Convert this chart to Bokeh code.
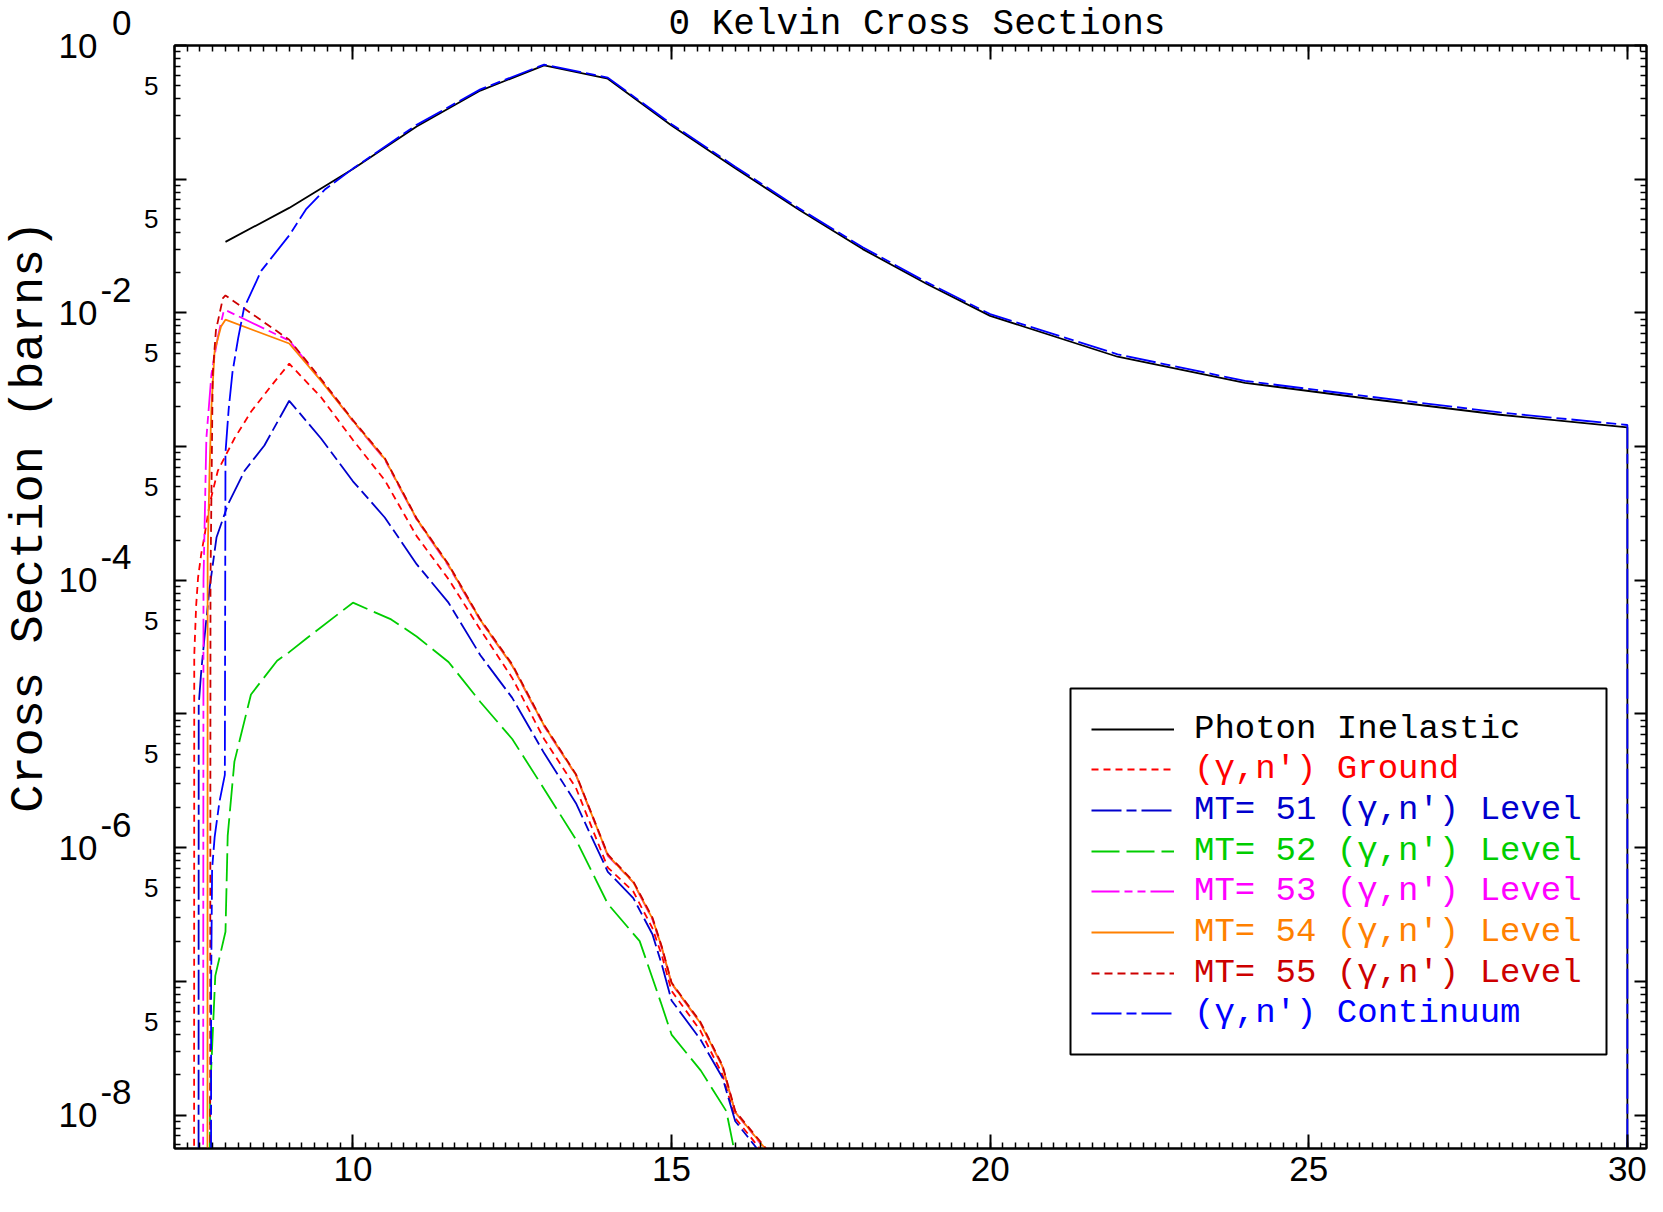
import numpy as np
from bokeh.plotting import figure
from bokeh.models import (Range1d, FixedTicker, LinearAxis, LogAxis, Legend, LegendItem,
                          BoxAnnotation, CustomJSTickFormatter, Title)
from bokeh.embed import file_html
from bokeh.resources import INLINE

# ---------------- data (energy in MeV, cross section in barns) ----------------
black_x = [8, 9, 10, 11, 12, 13, 14, 15, 16, 17, 18, 19, 20, 22, 24, 26, 28, 30, 30]
black_y = [0.034, 0.061, 0.119, 0.248, 0.46, 0.71, 0.565, 0.252, 0.121, 0.059, 0.030,
           0.0165, 0.0095, 0.0047, 0.0030, 0.00226, 0.00173, 0.00139, 1e-12]

ground_x = [7.505, 7.51, 7.54, 7.57, 7.62, 7.67, 7.75, 7.88, 8.14, 8.40, 8.71, 9.0, 9.5,
            10, 10.5, 11, 11.5, 12, 12.5, 13, 13.5, 14, 14.4, 14.7, 14.85, 15, 15.45,
            15.8, 16, 16.4]
ground_y = [1e-12, 2.75e-5, 6.5e-5, 1.05e-4, 1.58e-4, 2.14e-4, 3.7e-4, 6.6e-4, 1.15e-3,
            1.82e-3, 2.82e-3, 4.17e-3, 2.34e-3, 1.12e-3, 5.6e-4, 2.14e-4, 1.02e-4, 4.27e-5,
            1.86e-5, 6.5e-6, 2.8e-6, 7.1e-7, 4.7e-7, 2.5e-7, 1.55e-7, 8.5e-8, 4.3e-8,
            2.0e-8, 9.5e-9, 5.5e-9]

mt51_x = [7.575, 7.58, 7.62, 7.67, 7.75, 7.86, 8.04, 8.30, 8.61, 9.0, 9.5, 10, 10.5, 11,
          11.5, 12, 12.5, 13, 13.5, 14, 14.4, 14.7, 14.85, 15, 15.45, 15.8, 16, 16.37]
mt51_y = [1e-12, 1.17e-5, 2.1e-5, 3.7e-5, 8.7e-5, 2.1e-4, 3.7e-4, 6.6e-4, 1.02e-3, 2.2e-3,
          1.15e-3, 5.5e-4, 2.95e-4, 1.32e-4, 6.8e-5, 2.75e-5, 1.32e-5, 5.1e-6, 2.15e-6,
          6.6e-7, 4.2e-7, 2.25e-7, 1.32e-7, 7.2e-8, 3.7e-8, 1.9e-8, 9e-9, 5.4e-9]

mt52_x = [7.715, 7.76, 7.84, 8.0, 8.035, 8.14, 8.40, 8.81, 9.0, 9.28, 10, 10.6, 11, 11.5,
          12, 12.5, 13, 13.5, 14, 14.5, 14.83, 15, 15.46, 15.86, 16]
mt52_y = [1e-12, 1.5e-8, 1.1e-7, 2.35e-7, 1.23e-6, 4.4e-6, 1.4e-5, 2.5e-5, 2.9e-5, 3.7e-5,
          6.8e-5, 5.1e-5, 3.8e-5, 2.45e-5, 1.23e-5, 6.5e-6, 2.75e-6, 1.15e-6, 3.8e-7,
          2.0e-7, 7.0e-8, 4.0e-8, 2.15e-8, 1.07e-8, 5e-9]

mt53_x = [7.645, 7.655, 7.70, 7.78, 7.88, 7.97, 8.0, 9.0, 9.5, 10, 10.5, 11, 11.5, 12,
          12.5, 13, 13.5, 14, 14.4, 14.7, 14.85, 15, 15.45, 15.8, 16, 16.5]
mt53_y = [1e-12, 1.0e-4, 1.15e-3, 3.5e-3, 6.6e-3, 0.0102, 0.0105, 6.2e-3, 3.15e-3, 1.55e-3,
          8.0e-4, 2.85e-4, 1.28e-4, 5.0e-5, 2.3e-5, 8.1e-6, 3.5e-6, 8.7e-7, 5.5e-7, 2.9e-7,
          1.75e-7, 9.6e-8, 4.9e-8, 2.3e-8, 1.05e-8, 5.3e-9]

mt54_x = [7.715, 7.72, 7.75, 7.78, 7.83, 7.93, 8.0, 9.0, 9.5, 10, 10.5, 11, 11.5, 12,
          12.5, 13, 13.5, 14, 14.4, 14.7, 14.85, 15, 15.45, 15.8, 16, 16.5]
mt54_y = [1e-12, 1.5e-4, 6.6e-4, 2.0e-3, 5.2e-3, 7.9e-3, 8.9e-3, 5.9e-3, 3.1e-3, 1.56e-3,
          8.1e-4, 2.88e-4, 1.3e-4, 5.05e-5, 2.3e-5, 8.2e-6, 3.5e-6, 8.8e-7, 5.5e-7, 2.95e-7,
          1.78e-7, 9.7e-8, 4.9e-8, 2.3e-8, 1.05e-8, 5.4e-9]

mt55_x = [7.755, 7.765, 7.80, 7.85, 7.96, 8.0, 9.0, 9.5, 10, 10.5, 11, 11.5, 12, 12.5, 13,
          13.5, 14, 14.4, 14.7, 14.85, 15, 15.45, 15.8, 16, 16.5]
mt55_y = [1e-12, 1.0e-4, 3.5e-3, 7.4e-3, 0.0129, 0.0135, 6.3e-3, 3.2e-3, 1.58e-3, 8.2e-4,
          2.9e-4, 1.32e-4, 5.1e-5, 2.35e-5, 8.3e-6, 3.55e-6, 8.9e-7, 5.6e-7, 3.0e-7, 1.8e-7,
          9.8e-8, 5.0e-8, 2.35e-8, 1.07e-8, 5.5e-9]

cont_x = [7.77, 7.775, 7.79, 7.83, 7.905, 7.99, 8.0, 8.05, 8.11, 8.2, 8.29, 8.56, 9.0,
          9.27, 9.57, 10, 11, 12, 13, 14, 15, 16, 17, 18, 19, 20, 22, 24, 26, 28, 30, 30]
cont_y = [1e-12, 9.5e-8, 6.9e-7, 1.2e-6, 2.2e-6, 3.5e-6, 9.0e-4, 1.9e-3, 3.6e-3, 6.5e-3,
          0.0108, 0.0206, 0.038, 0.060, 0.0845, 0.120, 0.255, 0.47, 0.72, 0.575, 0.258,
          0.124, 0.0605, 0.031, 0.0170, 0.0098, 0.0049, 0.0031, 0.00235, 0.00180, 0.00145,
          1e-12]

series_labels = ["Photon Inelastic", "(\u03b3,n') Ground", "MT= 51 (\u03b3,n') Level",
                 "MT= 52 (\u03b3,n') Level", "MT= 53 (\u03b3,n') Level",
                 "MT= 54 (\u03b3,n') Level", "MT= 55 (\u03b3,n') Level",
                 "(\u03b3,n') Continuum"]

x_major_ticks = [10, 15, 20, 25, 30]
y_decade_ticks = [1.0, 0.1, 0.01, 1e-3, 1e-4, 1e-5, 1e-6, 1e-7, 1e-8]
y_label_decades = [1.0, 0.01, 1e-4, 1e-6, 1e-8]
y_label_bases = ["10", "10", "10", "10", "10"]
y_label_exponents = ["0", "-2", "-4", "-6", "-8"]
y_five_ticks = [0.5, 0.05, 5e-3, 5e-4, 5e-5, 5e-6, 5e-7, 5e-8]
y_five_labels = ["5"] * 8

title_text = "0 Kelvin Cross Sections"
ytitle_text = "Cross Section (barns)"

# ---------------- styles / layout ----------------
series_colors = ["#000000", "#ff0000", "#0000cd", "#00cd00", "#ff00ff", "#ff8000",
                 "#cd0000", "#0000ff"]
series_dashes = ["solid", "7 5", "30 5 10 5", "28 7", "28 5 8 5 8 5", "solid", "8 5",
                 "30 5 10 5"]

X_START, X_END = 7.2, 30.3
LOG_Y0, LOG_Y1 = -8.25, 0.0
FRAME_W, FRAME_H = 1472, 1103
MONO = "Liberation Mono"
SANS = "Liberation Sans"

p = figure(frame_width=FRAME_W, frame_height=FRAME_H,
           x_range=Range1d(X_START, X_END), y_range=Range1d(10 ** LOG_Y0, 10 ** LOG_Y1),
           y_axis_type="log", output_backend="svg", toolbar_location=None,
           min_border_left=170, min_border_right=5, min_border_top=45, min_border_bottom=48,
           background_fill_color="white", border_fill_color="white")
p.xgrid.visible = False
p.ygrid.visible = False
p.outline_line_color = "black"
p.outline_line_width = 2

p.title.text = title_text
p.title.text_font = MONO
p.title.text_font_size = "36px"
p.title.text_font_style = "normal"
p.title.text_color = "black"
p.title.align = "left"
p.title.offset = 494
p.title.standoff = 2

x_minor = [round(v, 2) for v in np.arange(X_START, X_END + 0.001, 0.2)]
xticker = FixedTicker(ticks=x_major_ticks, minor_ticks=x_minor)
y_minor = [m * 10.0 ** k for k in range(-9, 0) for m in range(2, 10)
           if m * 10.0 ** k >= 10 ** LOG_Y0]
yticker = FixedTicker(ticks=y_decade_ticks, minor_ticks=y_minor)


def blank():
    return CustomJSTickFormatter(code="return ''")


def style_ticks(ax, major_len):
    ax.major_tick_in = major_len
    ax.major_tick_out = 0
    ax.minor_tick_in = 6
    ax.minor_tick_out = 0
    ax.axis_line_width = 2
    ax.axis_line_color = "black"
    ax.major_tick_line_width = 2
    ax.minor_tick_line_width = 1.5
    ax.major_tick_line_color = "black"
    ax.minor_tick_line_color = "black"


def label_axis(ticks, labels, size, standoff):
    ax = LogAxis(ticker=FixedTicker(ticks=ticks, minor_ticks=[]), formatter=blank())
    ax.major_label_overrides = dict(zip(ticks, labels))
    ax.major_tick_in = 0
    ax.major_tick_out = 0
    ax.minor_tick_in = 0
    ax.minor_tick_out = 0
    ax.axis_line_color = None
    ax.major_tick_line_color = None
    ax.minor_tick_line_color = None
    ax.major_label_text_font = SANS
    ax.major_label_text_font_size = size
    ax.major_label_text_color = "black"
    ax.major_label_standoff = standoff
    return ax


xa = p.xaxis[0]
xa.ticker = xticker
style_ticks(xa, 14)
xa.major_label_text_font = SANS
xa.major_label_text_font_size = "35px"
xa.major_label_text_color = "black"
xa.major_label_standoff = 8

ya = p.yaxis[0]
ya.ticker = yticker
ya.formatter = blank()
ya.major_label_standoff = 0
ya.major_label_text_font_size = "1px"
style_ticks(ya, 12)

# left label columns: "5", raised exponent, "10"
raised_exponents = [e + "\n " for e in y_label_exponents]
p.add_layout(label_axis(y_five_ticks, y_five_labels, "26px", 16), "left")
p.add_layout(label_axis(y_label_decades, raised_exponents, "35px", 10), "left")
p.add_layout(label_axis(y_label_decades, y_label_bases, "35px", 0), "left")
p.add_layout(Title(text=ytitle_text, align="right", offset=175, standoff=0,
                   text_font=MONO, text_font_size="47px", text_font_style="normal",
                   text_color="black"), "left")

ra = LogAxis(ticker=yticker, formatter=blank(), major_label_standoff=0,
             major_label_text_font_size="1px")
style_ticks(ra, 12)
p.add_layout(ra, "right")
ta = LinearAxis(ticker=xticker, formatter=blank(), major_label_standoff=0,
                major_label_text_font_size="1px")
style_ticks(ta, 14)
p.add_layout(ta, "above")

# ---------------- curves ----------------
xs = [black_x, ground_x, mt51_x, mt52_x, mt53_x, mt54_x, mt55_x, cont_x]
ys = [black_y, ground_y, mt51_y, mt52_y, mt53_y, mt54_y, mt55_y, cont_y]
renderers = []
for x, y, c, d in zip(xs, ys, series_colors, series_dashes):
    renderers.append(p.line(x, y, line_color=c, line_width=1.8, line_dash=d))


# ---------------- legend (one per row for coloured texts) ----------------
def px_to_x(px):
    return X_START + px * (X_END - X_START) / FRAME_W


def py_to_y(py):
    return 10 ** (LOG_Y0 + py * (LOG_Y1 - LOG_Y0) / FRAME_H)


LEG_CENTER, ROW_STEP, ROW_H = 277.0, 40.7, 40
for i, (r, lab, c) in enumerate(zip(renderers, series_labels, series_colors)):
    row_c = LEG_CENTER + (3.5 - i) * ROW_STEP
    leg = Legend(items=[LegendItem(label=lab, renderers=[r])],
                 location=(917, row_c - ROW_H / 2),
                 padding=0, margin=0, spacing=0, glyph_width=83, glyph_height=ROW_H,
                 label_height=ROW_H, label_standoff=20, label_text_font=MONO,
                 label_text_font_size="34px", label_text_color=c,
                 border_line_color=None, background_fill_color=None,
                 background_fill_alpha=0)
    p.add_layout(leg)

p.add_layout(BoxAnnotation(left=px_to_x(896), right=px_to_x(1432),
                           bottom=py_to_y(94), top=py_to_y(460),
                           fill_color=None, line_color="black", line_alpha=1.0,
                           line_width=2))

open("out.html", "w").write(file_html(p, INLINE))
